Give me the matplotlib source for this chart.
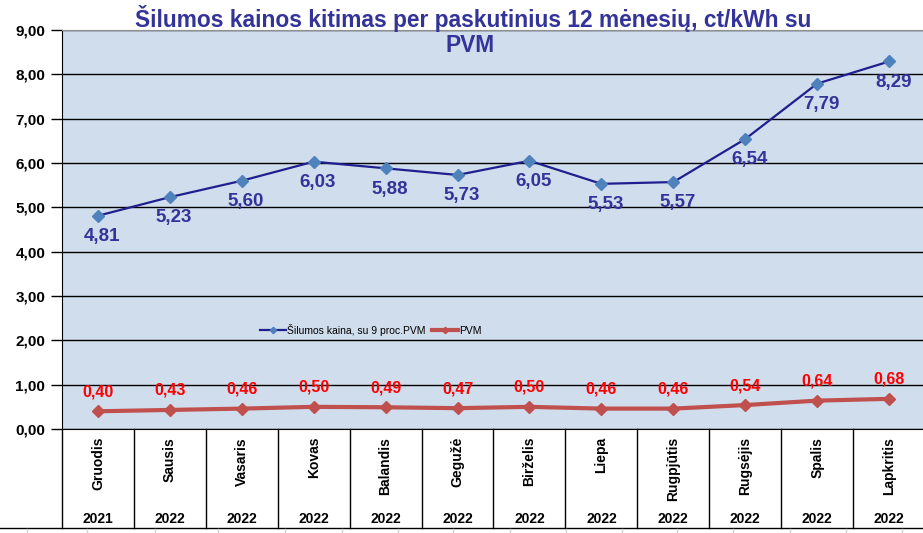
import matplotlib
matplotlib.use("Agg")
import matplotlib.pyplot as plt
from matplotlib import font_manager
from matplotlib.lines import Line2D
import matplotlib.transforms as mtransforms

months = ["Gruodis", "Sausis", "Vasaris", "Kovas", "Balandis", "Gegužė",
          "Birželis", "Liepa", "Rugpjūtis", "Rugsėjis", "Spalis", "Lapkritis"]
years = ["2021", "2022", "2022", "2022", "2022", "2022",
         "2022", "2022", "2022", "2022", "2022", "2022"]
price = [4.81, 5.23, 5.60, 6.03, 5.88, 5.73, 6.05, 5.53, 5.57, 6.54, 7.79, 8.29]
vat = [0.40, 0.43, 0.46, 0.50, 0.49, 0.47, 0.50, 0.46, 0.46, 0.54, 0.64, 0.68]
yticks = [0, 1, 2, 3, 4, 5, 6, 7, 8, 9]
title_l1 = "Šilumos kainos kitimas per paskutinius 12 mėnesių, ct/kWh su"
title_l2 = "PVM"
leg_price = "Šilumos kaina, su 9 proc.PVM"
leg_vat = "PVM"

names = {f.name for f in font_manager.fontManager.ttflist}
base = "Liberation Sans" if "Liberation Sans" in names else "DejaVu Sans"
narrow = "Liberation Sans Narrow" if "Liberation Sans Narrow" in names else base
title_size = 15 if narrow != base else 16.4
plt.rcParams["font.family"] = [base, "DejaVu Sans"]

W, H = 923, 533
fig = plt.figure(figsize=(W / 100, H / 100), dpi=100)
fig.patch.set_facecolor("white")

left_px, right_px, top_px, bot_px = 62, 925, 30, 429
ax = fig.add_axes([left_px / W, 1 - bot_px / H, (right_px - left_px) / W, (bot_px - top_px) / H])
ax.set_facecolor("#D0DDED")

x = list(range(len(months)))
ax.set_xlim(-0.5, len(months) - 0.5)
ax.set_ylim(0, 9)
ax.set_yticks(yticks)
ax.set_yticklabels([f"{v:.2f}".replace(".", ",") for v in yticks],
                   fontsize=11, fontweight="bold", color="black")
ax.tick_params(axis="y", direction="out", length=8, width=1, color="black", pad=4)
ax.set_xticks([])
ax.yaxis.grid(True, color="black", linewidth=1)
ax.set_axisbelow(True)
ax.spines["right"].set_visible(False)
ax.spines["top"].set_color("#909090")
ax.spines["left"].set_color("black")
ax.spines["bottom"].set_color("black")

blue_line = "#1F1F8F"
blue_mark = "#4F81BD"
red = "#C0504D"

ax.plot(x, price, color=blue_line, lw=1.6, marker="D", markersize=6.5,
        markerfacecolor=blue_mark, markeredgecolor=blue_mark, zorder=4,
        label=leg_price)
ax.plot(x, vat, color=red, lw=3, marker="D", markersize=6.5,
        markerfacecolor=red, markeredgecolor=red, zorder=4, label=leg_vat)

for xi, v in zip(x, price):
    ax.annotate(f"{v:.2f}".replace(".", ","), (xi, v), xytext=(3, -15),
                textcoords="offset points", ha="center", va="center",
                fontsize=13.5, fontweight="bold", color="#333399", zorder=5)
for xi, v in zip(x, vat):
    ax.annotate(f"{v:.2f}".replace(".", ","), (xi, v), xytext=(0, 14),
                textcoords="offset points", ha="center", va="center",
                fontsize=11.5, fontweight="bold", color="#FF0000", zorder=5)

# category table below axis
trans = mtransforms.blended_transform_factory(ax.transData, ax.transAxes)
table_bot = -(528 - bot_px) / (bot_px - top_px)
for b in [i - 0.5 for i in range(len(months) + 1)]:
    ax.add_line(Line2D([b, b], [0, table_bot], transform=trans, color="black",
                       lw=1, clip_on=False))
fig.add_artist(Line2D([0, 1], [1 - 528 / H, 1 - 528 / H], transform=fig.transFigure,
                      color="black", lw=1))
for xi, m, yv in zip(x, months, years):
    ax.text(xi, -(437 - bot_px) / (bot_px - top_px), m, transform=trans, rotation=90,
            ha="center", va="top", fontsize=10, fontweight="bold")
    ax.text(xi, -(519 - bot_px) / (bot_px - top_px), yv, transform=trans,
            ha="center", va="center", fontsize=10, fontweight="bold")

# faint sheet gridline stubs at the very bottom
for px in [27, 87, 155, 218, 285, 342, 398, 453, 510, 566, 622, 677, 733, 790, 846, 902]:
    fig.add_artist(Line2D([px / W, px / W], [0, 1 - 529 / H], transform=fig.transFigure,
                          color="#D4D4D4", lw=1))

# title
fig.text(473 / W, 1 - 19 / H, title_l1, ha="center", va="center", fontsize=title_size,
         fontweight="bold", color="#333399", family=[narrow, "DejaVu Sans"])
fig.text(470 / W, 1 - 46 / H, title_l2, ha="center", va="center", fontsize=title_size,
         fontweight="bold", color="#333399", family=[narrow, "DejaVu Sans"])

leg = ax.legend(loc="center", bbox_to_anchor=(371 / W, 1 - 330 / H),
                bbox_transform=fig.transFigure, frameon=False, ncol=2,
                fontsize=7.5, handlelength=2.5, handletextpad=0.1, columnspacing=0.6,
                markerscale=0.5)

fig.savefig("out.png", dpi=100)
